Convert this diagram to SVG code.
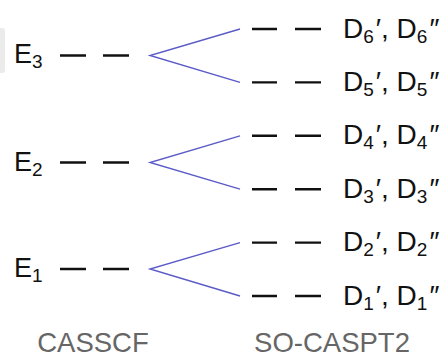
<svg xmlns="http://www.w3.org/2000/svg" width="446" height="358" viewBox="0 0 446 358">
<style>
.lbl{font-family:"Liberation Sans",Arial,sans-serif;font-size:27px;fill:#111}
.dl{font-size:28px}
.sub{font-size:19px}
.ax{font-family:"Liberation Sans",Arial,sans-serif;font-size:27.5px;fill:#666;text-anchor:middle}
.dash{stroke:#111;stroke-width:2.4;fill:none}
.split{stroke:#5b5bc8;stroke-width:1.4;fill:none}
</style>
<rect x="-10" y="28" width="15" height="45" rx="3" fill="#ebebeb"/>
<g id="E3"><text class="lbl" x="14" y="63">E<tspan class="sub" dy="5">3</tspan></text><path class="dash" d="M60 55.5H86M103 55.5H129"/></g>
<g id="E2"><text class="lbl" x="14" y="171">E<tspan class="sub" dy="5">2</tspan></text><path class="dash" d="M60 162.5H86M103 162.5H129"/></g>
<g id="E1"><text class="lbl" x="14" y="277">E<tspan class="sub" dy="5">1</tspan></text><path class="dash" d="M60 269H86M103 269H129"/></g>
<g id="D6"><path class="dash" d="M252 29H277M295 29H321"/><text class="lbl dl" x="343" y="37.5">D<tspan class="sub" dy="5">6</tspan><tspan dx="2" dy="-5">′, D</tspan><tspan class="sub" dy="5">6</tspan><tspan dx="2" dy="-5">″</tspan></text></g>
<g id="D5"><path class="dash" d="M252 82.4H277M295 82.4H321"/><text class="lbl dl" x="343" y="90.9">D<tspan class="sub" dy="5">5</tspan><tspan dx="2" dy="-5">′, D</tspan><tspan class="sub" dy="5">5</tspan><tspan dx="2" dy="-5">″</tspan></text></g>
<g id="D4"><path class="dash" d="M252 135.8H277M295 135.8H321"/><text class="lbl dl" x="343" y="144.3">D<tspan class="sub" dy="5">4</tspan><tspan dx="2" dy="-5">′, D</tspan><tspan class="sub" dy="5">4</tspan><tspan dx="2" dy="-5">″</tspan></text></g>
<g id="D3"><path class="dash" d="M252 189.2H277M295 189.2H321"/><text class="lbl dl" x="343" y="197.7">D<tspan class="sub" dy="5">3</tspan><tspan dx="2" dy="-5">′, D</tspan><tspan class="sub" dy="5">3</tspan><tspan dx="2" dy="-5">″</tspan></text></g>
<g id="D2"><path class="dash" d="M252 242.6H277M295 242.6H321"/><text class="lbl dl" x="343" y="251.1">D<tspan class="sub" dy="5">2</tspan><tspan dx="2" dy="-5">′, D</tspan><tspan class="sub" dy="5">2</tspan><tspan dx="2" dy="-5">″</tspan></text></g>
<g id="D1"><path class="dash" d="M252 296H277M295 296H321"/><text class="lbl dl" x="343" y="304.5">D<tspan class="sub" dy="5">1</tspan><tspan dx="2" dy="-5">′, D</tspan><tspan class="sub" dy="5">1</tspan><tspan dx="2" dy="-5">″</tspan></text></g>
<g id="connectors">
<path class="split" d="M240 29L150 55.5L240 82.4"/>
<path class="split" d="M240 135.8L150 162.5L240 189.2"/>
<path class="split" d="M240 242.6L150 269L240 296"/>
</g>
<text class="ax" x="93" y="352">CASSCF</text>
<text class="ax" x="332" y="352">SO-CASPT2</text>
</svg>
